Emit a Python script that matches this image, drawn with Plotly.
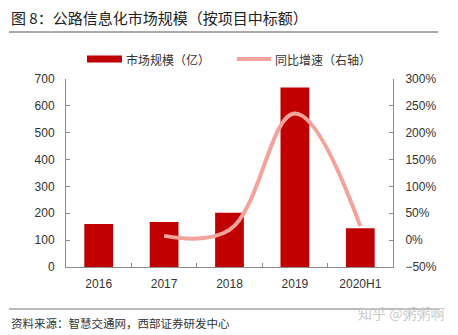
import plotly.graph_objects as go

categories = ["2016", "2017", "2018", "2019", "2020H1"]
market_size = [160, 168, 202, 668, 144]
growth_cats = ["2017", "2018", "2019", "2020H1"]
growth_rate = [0.08, 0.19, 2.36, 0.26]

left_ticks = [0, 100, 200, 300, 400, 500, 600, 700]
right_ticks = [-0.5, 0, 0.5, 1.0, 1.5, 2.0, 2.5, 3.0]

BAR_COLOR = "#C00000"
LINE_COLOR = "#F4A39C"
CJK = "Noto Sans CJK SC"
LAT = "Liberation Sans, Arial"

fig = go.Figure()
fig.add_trace(go.Bar(x=categories, y=market_size, name="市场规模（亿）",
                     marker=dict(color=BAR_COLOR, line=dict(width=0)),
                     showlegend=False))
fig.add_trace(go.Scatter(x=growth_cats, y=growth_rate, name="同比增速（右轴）",
                         mode="lines", yaxis="y2",
                         line=dict(color=LINE_COLOR, width=4, shape="spline", smoothing=1.1),
                         showlegend=False))

W, H = 458, 335
ml, mr, mt, mb = 66, 65, 79, 68

axis_common = dict(showline=True, linecolor="#8c8c8c", linewidth=1,
                   ticks="inside", ticklen=4, tickcolor="#8c8c8c",
                   showgrid=False, zeroline=False,
                   tickfont=dict(family=LAT, size=12, color="#333333"))

fig.update_layout(
    width=W, height=H,
    margin=dict(l=ml, r=mr, t=mt, b=mb, pad=0),
    paper_bgcolor="white", plot_bgcolor="white",
    bargap=0.56,
    xaxis=dict(**axis_common, type="category",
               tickson="boundaries", ticklabelstandoff=6),
    yaxis=dict(**axis_common, range=[0, 700], tickvals=left_ticks,
               ticklabelstandoff=8),
    yaxis2=dict(**axis_common, range=[-0.5, 3.0], tickvals=right_ticks,
                tickformat=".0%", overlaying="y", side="right",
                ticklabelstandoff=9),
    showlegend=False,
)

def yp(v):
    return (H - mb - v) / (H - mt - mb)

def xp(v):
    return (v - ml) / (W - ml - mr)

shapes = [
    # title underline
    dict(type="line", x0=xp(9), x1=xp(438), y0=yp(32), y1=yp(32),
         line=dict(color="#555555", width=1)),
    # bottom line
    dict(type="line", x0=xp(9), x1=xp(440), y0=yp(309), y1=yp(309),
         line=dict(color="#777777", width=1)),
    # legend: bar swatch
    dict(type="rect", x0=xp(87), x1=xp(122), y0=yp(62.5), y1=yp(55.5),
         fillcolor=BAR_COLOR, line=dict(width=0)),
    # legend: line swatch
    dict(type="line", x0=xp(237), x1=xp(271), y0=yp(59), y1=yp(59),
         line=dict(color=LINE_COLOR, width=4)),
]
for s in shapes:
    s.update(xref="paper", yref="paper")
fig.update_layout(shapes=shapes)

annotations = [
    dict(text="图 8：公路信息化市场规模（按项目中标额）", x=xp(9), y=yp(17),
         xanchor="left", yanchor="middle",
         font=dict(family=CJK, size=15, color="#222222")),
    dict(text="市场规模（亿）", x=xp(124), y=yp(59.5), xanchor="left", yanchor="middle",
         font=dict(family=CJK, size=12, color="#333333")),
    dict(text="同比增速（右轴）", x=xp(273), y=yp(59.5), xanchor="left", yanchor="middle",
         font=dict(family=CJK, size=12, color="#333333")),
    dict(text="资料来源：智慧交通网，西部证券研发中心", x=xp(9), y=yp(323),
         xanchor="left", yanchor="middle",
         font=dict(family=CJK, size=11.5, color="#333333")),
    dict(text="知乎 @粥粥啊", x=xp(446), y=yp(313), xanchor="right", yanchor="middle",
         font=dict(family=CJK, size=14, color="#cccccc")),
]
for a in annotations:
    a.update(xref="paper", yref="paper", showarrow=False)
fig.update_layout(annotations=annotations)

fig.write_html("out.html")
